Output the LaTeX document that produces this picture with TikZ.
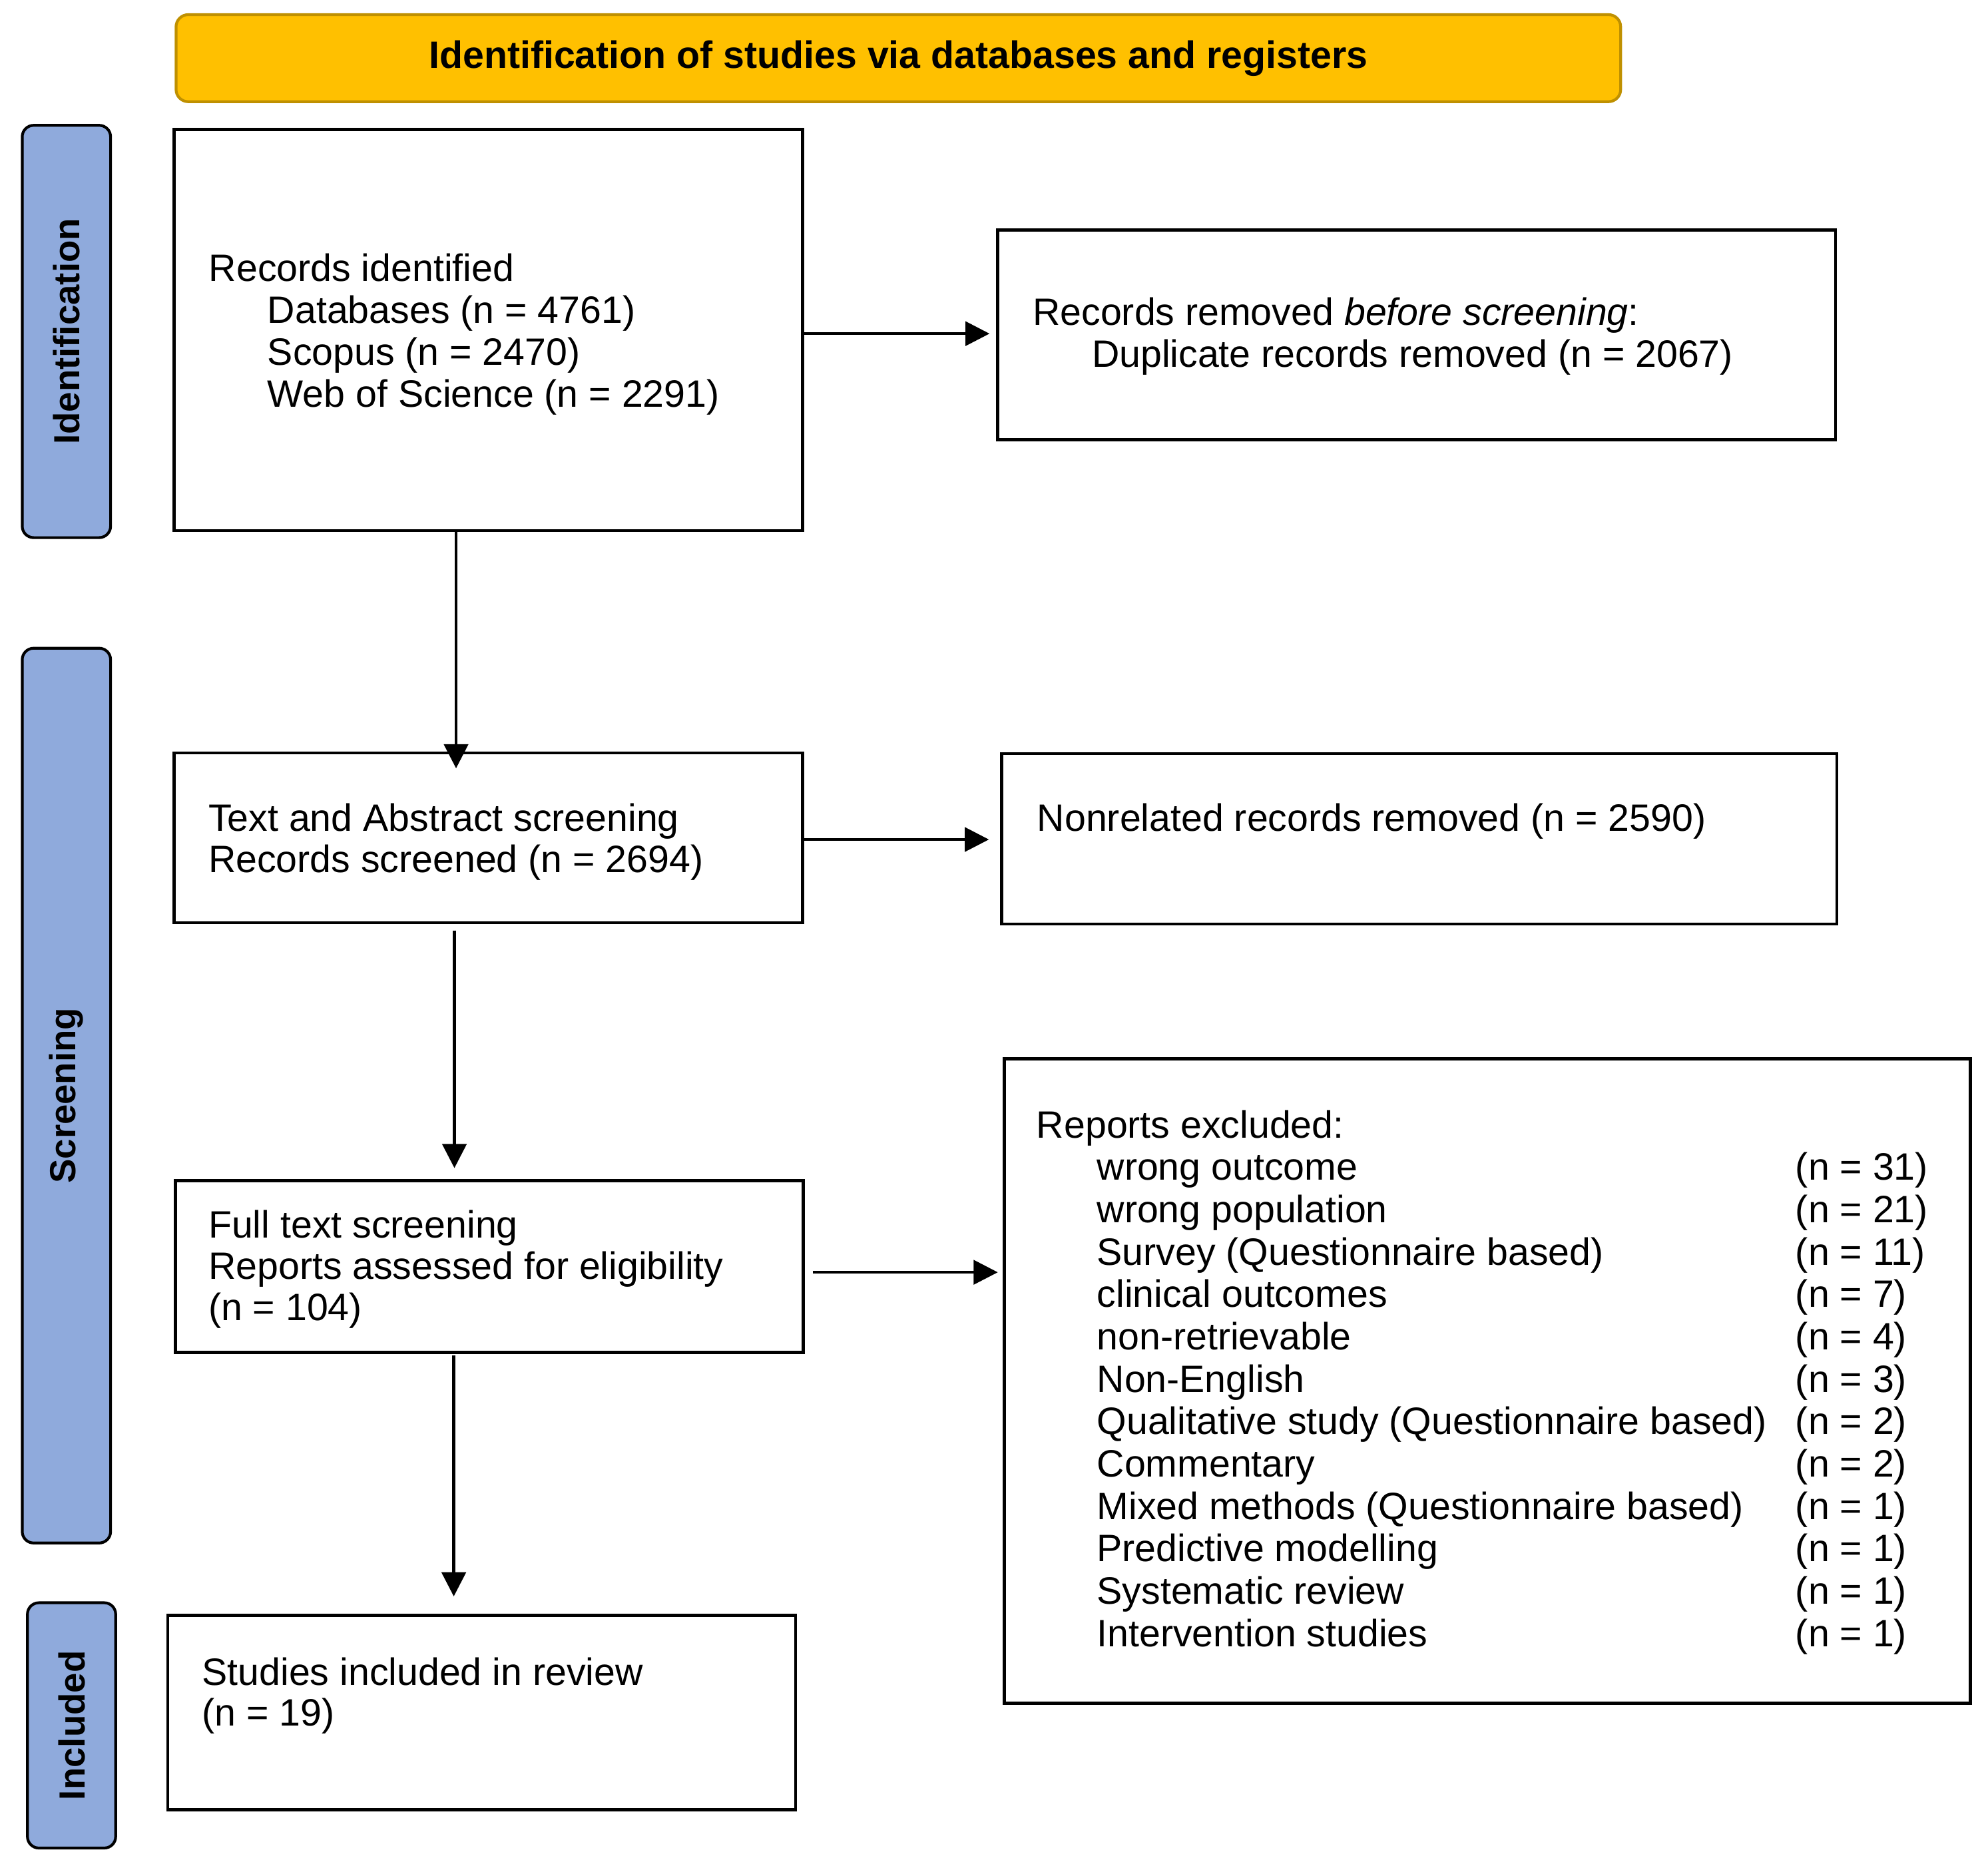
\documentclass[tikz,border=0pt]{standalone}
\usepackage{fontspec}
\setmainfont{Liberation Sans}
\usetikzlibrary{arrows.meta}
\definecolor{bannerfill}{HTML}{FFC000}
\definecolor{bannerdraw}{HTML}{BF9000}
\definecolor{sidefill}{HTML}{8FAADC}
\newcommand\mybox[6][]{\node[#1, minimum width={(#5-#3)*0.5pt}, minimum height={(#6-#4)*0.5pt}] (#2) at ({(#3+#5)/2},{(#4+#6)/2}) {};}
\begin{document}
\begin{tikzpicture}[x=0.5pt,y=-0.5pt,
  box/.style={draw=black, line width=1.2pt, fill=white, inner sep=0pt, outer sep=0pt},
  banner/.style={draw=bannerdraw, line width=1.1pt, fill=bannerfill, rounded corners=4.8pt, inner sep=0pt, outer sep=0pt},
  side/.style={draw=black, line width=1.1pt, fill=sidefill, rounded corners=4.5pt, inner sep=0pt, outer sep=0pt},
  txt/.style={anchor=base west, inner sep=0pt, outer sep=0pt, font=\fontsize{15}{18}\selectfont},
  sidetxt/.style={rotate=90, inner sep=0pt, font=\fontsize{14.3}{17}\selectfont\bfseries},
  arr/.style={line width=1.1pt, -{Triangle[length=9.5pt,width=9.5pt]}}]
\useasboundingbox (0,0) rectangle (1564,1474);
% banner
\mybox[banner]{ban}{138.5}{11.5}{1275}{80}
\node[inner sep=0pt, font=\fontsize{15}{18}\selectfont\bfseries] (bant) at (ban.center) {Identification of studies via databases and registers};
% side boxes
\mybox[side]{sid}{17.5}{98.6}{87}{423}
\mybox[side]{sscr}{17.5}{510}{87}{1214}
\mybox[side]{sinc}{21.6}{1261}{91}{1454}
\node[sidetxt] (sidt) at (sid.center) {Identification};
\node[sidetxt] (sscrt) at (sscr.center) {Screening};
\node[sidetxt] (sinct) at (sinc.center) {Included};
% boxes
\mybox[box]{rec}{137}{102}{631.5}{417.5}
\mybox[box]{rem}{785}{181}{1444}{346}
\mybox[box]{tas}{137}{592.3}{631.5}{726}
\mybox[box]{nonr}{788}{593}{1445}{727}
\mybox[box]{full}{138}{929}{632}{1064}
\mybox[box]{excl}{790}{833}{1550}{1340}
\mybox[box]{stud}{132}{1271}{626}{1424}
% texts
\node[txt] (rec1) at (164.4,221.5) {Records identified};
\node[txt] (rec2) at (210.5,254.5) {Databases (n = 4761)};
\node[txt] (rec3) at (210.5,287.5) {Scopus (n = 2470)};
\node[txt] (rec4) at (210.5,320.5) {Web of Science (n = 2291)};
\node[txt] (rem1) at (812.5,256) {Records removed \textit{before screening}:};
\node[txt] (rem2) at (859,289) {Duplicate records removed (n = 2067)};
\node[txt] (tas1) at (164,654) {Text and Abstract screening};
\node[txt] (tas2) at (164,686.5) {Records screened (n = 2694)};
\node[txt] (nonr1) at (816,654) {Nonrelated records removed (n = 2590)};
\node[txt] (full1) at (164,974) {Full text screening};
\node[txt] (full2) at (164,1006.5) {Reports assessed for eligibility};
\node[txt] (full3) at (164,1039) {(n = 104)};
\node[txt] (stud1) at (159,1326) {Studies included in review};
\node[txt] (stud2) at (159,1358) {(n = 19)};
\node[txt] (excl0) at (815.5,895.6) {Reports excluded:};
\foreach \t/\n [count=\i from 0] in {wrong outcome/31, wrong population/21, Survey (Questionnaire based)/11, clinical outcomes/7, non-retrievable/4, Non-English/3, Qualitative study (Questionnaire based)/2, Commentary/2, Mixed methods (Questionnaire based)/1, Predictive modelling/1, Systematic review/1, Intervention studies/1}{
  \node[txt] (exl\i) at (863,{928.5+33.35*\i}) {\t};
  \node[txt] (exn\i) at (1412.6,{928.5+33.35*\i}) {(n = \n)};
}
% arrows
\coordinate (cxa) at (358.8,0);
\coordinate (cxb) at (357.5,0);
\coordinate (cxc) at (357,0);
\coordinate (cya) at (0,262.5);
\coordinate (cyb) at (0,660.5);
\coordinate (cyc) at (0,1001);
\draw[arr, shorten >=-6.1pt] (rec.south -| cxa) -- (tas.north -| cxa);
\draw[arr, shorten <=3pt, shorten >=5pt] (tas.south -| cxb) -- (full.north -| cxb);
\draw[arr, shorten <=1.25pt, shorten >=7.5pt] (full.south -| cxc) -- (stud.north -| cxc);
\draw[arr, shorten >=3.25pt] (rec.east |- cya) -- (rem.west |- cya);
\draw[arr, shorten <=0.6pt, shorten >=5pt] (tas.east |- cyb) -- (nonr.west |- cyb);
\draw[arr, shorten <=3.75pt, shorten >=2.5pt] (full.east |- cyc) -- (excl.west |- cyc);
\end{tikzpicture}
\end{document}
